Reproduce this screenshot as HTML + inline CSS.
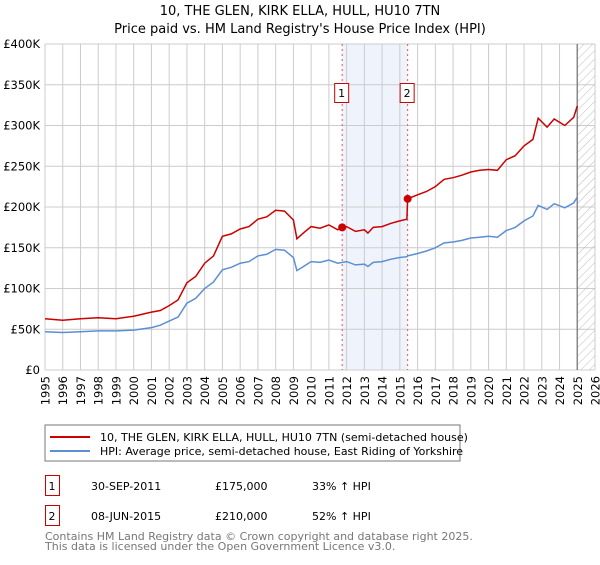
<!DOCTYPE html>
<html><head><meta charset="utf-8"><style>
body{margin:0;background:#fff;}
svg text{font-family:"DejaVu Sans","Liberation Sans",sans-serif;}
</style></head><body>
<svg id="c" width="600" height="560" xmlns="http://www.w3.org/2000/svg">
<defs><pattern id="hatch" width="6" height="6" patternUnits="userSpaceOnUse" patternTransform="rotate(45)"><line x1="0" y1="0" x2="0" y2="6" stroke="#bbb" stroke-width="1"/></pattern></defs>
<text x="300" y="15" text-anchor="middle" font-size="13">10, THE GLEN, KIRK ELLA, HULL, HU10 7TN</text>
<text x="300" y="33" text-anchor="middle" font-size="13">Price paid vs. HM Land Registry's House Price Index (HPI)</text>
<g id="grid"></g><g id="marks"></g><g id="axes"></g>
<rect x="45" y="425" width="415" height="36" fill="#fff" stroke="#777"/>
<line x1="50" y1="437" x2="90" y2="437" stroke="#cc0000" stroke-width="2"/>
<text x="100" y="441" font-size="11">10, THE GLEN, KIRK ELLA, HULL, HU10 7TN (semi-detached house)</text>
<line x1="50" y1="451" x2="90" y2="451" stroke="#5b8fd4" stroke-width="2"/>
<text x="100" y="455" font-size="11">HPI: Average price, semi-detached house, East Riding of Yorkshire</text>
<g font-size="11">
<rect x="45.5" y="475.5" width="14" height="20" fill="none" stroke="#c00"/><text x="52" y="490" text-anchor="middle">1</text>
<text x="91" y="490">30-SEP-2011</text><text x="215" y="490">£175,000</text><text x="312" y="490">33% ↑ HPI</text>
<rect x="45.5" y="505.5" width="14" height="20" fill="none" stroke="#c00"/><text x="52" y="520" text-anchor="middle">2</text>
<text x="91" y="520">08-JUN-2015</text><text x="215" y="520">£210,000</text><text x="312" y="520">52% ↑ HPI</text>
</g>
<text x="45" y="540" font-size="11" fill="#777">Contains HM Land Registry data © Crown copyright and database right 2025.</text>
<text x="45" y="550" font-size="11" fill="#777">This data is licensed under the Open Government Licence v3.0.</text>
</svg>
<script>
const years=[1995,1996,1997,1998,1999,2000,2001,2001.5,2002,2002.5,2003,2003.5,2004,2004.5,2005,2005.5,2006,2006.5,2007,2007.5,2008,2008.5,2009,2009.2,2009.5,2010,2010.5,2011,2011.5,2011.75,2012,2012.5,2013,2013.2,2013.5,2014,2014.5,2015,2015.4,2015.44,2016,2016.5,2017,2017.5,2018,2018.5,2019,2019.5,2020,2020.5,2021,2021.5,2022,2022.5,2022.8,2023.3,2023.7,2024.3,2024.8,2025];
const hpi=[47,46,47,48,48,49,52,55,60,65,82,88,100,108,123,126,131,133,140,142,148,147,138,122,126,133,132,135,131,132,133,129,130,127,132,133,136,138,139,140,143,146,150,156,157,159,162,163,164,163,171,175,183,189,202,197,204,199,205,212];
const price=[63,61,63,64,63,66,71,73,79,86,107,115,131,140,164,167,173,176,185,188,196,195,184,161,167,176,174,178,172,175,176,170,172,168,175,176,180,183,185,210,215,219,225,234,236,239,243,245,246,245,258,263,275,283,309,298,308,300,310,324];
const sales=[2011.75,2015.44];
const salePrices=[175,210];
const yTicks=[0,50,100,150,200,250,300,350,400];
const yLabels=["£0","£50K","£100K","£150K","£200K","£250K","£300K","£350K","£400K"];
const NS="http://www.w3.org/2000/svg";
const X=y=>45+(y-1995)*550/31, Y=v=>370-v*326/400;
function mk(t,a,p){const e=document.createElementNS(NS,t);for(const k in a)e.setAttribute(k,a[k]);p.appendChild(e);return e;}
const g=document.getElementById('grid'),m=document.getElementById('marks'),ax=document.getElementById('axes');
const sh=mk('rect',{x:X(sales[0]),y:Y(400),width:X(sales[1])-X(sales[0]),height:326,fill:'#eef3fc'},g);


for(let yr=1995;yr<=2026;yr++){
 const l=mk('line',{x1:X(yr),x2:X(yr),y1:Y(400),y2:370,stroke:'#ccc'},g);
 
 
 const t=mk('text',{x:0,y:0,'font-size':11.5,'text-anchor':'end',transform:`translate(${X(yr)+4.5},376) rotate(-90)`},ax);
 t.textContent=yr;
 
 
}
yTicks.forEach((v,i)=>{
 const l=mk('line',{x1:45,x2:595,y1:Y(v),y2:Y(v),stroke:'#ccc'},g);
 
 
 const t=mk('text',{x:40,y:Y(v)+4,'font-size':11.5,'text-anchor':'end'},ax);
 t.textContent=yLabels[i];
 
 
});
const hr=mk('rect',{x:X(2025),y:Y(400),width:595-X(2025),height:326,fill:'url(#hatch)'},g);


const fl=mk('line',{x1:X(2025),x2:X(2025),y1:Y(400),y2:370,stroke:'#888','stroke-width':1.5},g);


sales.forEach((s,i)=>{
 const l=mk('line',{x1:X(s),x2:X(s),y1:Y(400),y2:370,stroke:'#f05050','stroke-dasharray':'2,3'},m);
 
 
 const r=mk('rect',{x:X(s)-7.5,y:83.5,width:14,height:19,fill:'#fff',stroke:'#c00'},m);
 
 
 const t=mk('text',{x:X(s)-0.5,y:97,'font-size':11,'text-anchor':'middle'},m);
 t.textContent=i+1;
 
 
});
const pts=a=>a.map((v,i)=>X(years[i]).toFixed(1)+','+Y(v).toFixed(1)).join(' ');
const hl=mk('polyline',{points:pts(hpi),fill:'none',stroke:'#5b8fd4','stroke-width':1.5},m);


const pl=mk('polyline',{points:pts(price),fill:'none',stroke:'#cc0000','stroke-width':1.5},m);


sales.forEach((s,i)=>{
 const c=mk('circle',{cx:X(s),cy:Y(salePrices[i]),r:4,fill:'#cc0000'},m);
 
 
});
</script>
</body></html>
